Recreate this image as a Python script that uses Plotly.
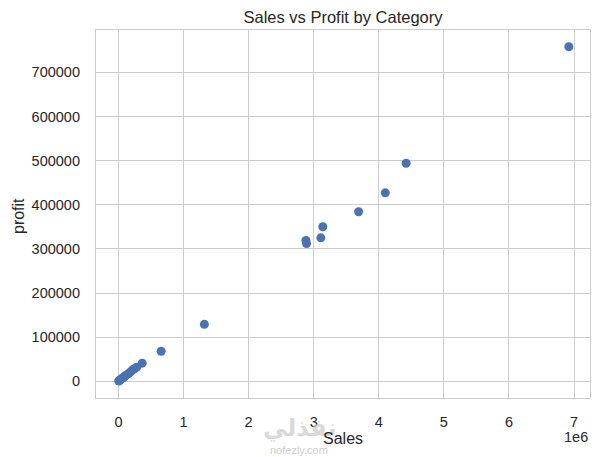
import plotly.graph_objects as go

# Data (Sales vs profit per category)
sales = [6.92e6, 4.42e6, 4.10e6, 3.69e6, 3.14e6, 3.11e6, 2.88e6, 2.89e6,
         1.32e6, 0.656e6, 0.365e6, 0.28e6, 0.25e6, 0.22e6, 0.19e6, 0.16e6,
         0.13e6, 0.10e6, 0.08e6, 0.06e6, 0.04e6, 0.025e6, 0.012e6, 0.005e6]
profit = [758000, 494000, 427000, 384000, 350000, 325000, 319000, 312000,
          129000, 68000, 41000, 32000, 29000, 26000, 22000, 18000,
          15000, 12000, 9000, 7000, 5000, 3000, 1500, 500]

x_tick_vals = [0, 1e6, 2e6, 3e6, 4e6, 5e6, 6e6, 7e6]
x_tick_text = ["0", "1", "2", "3", "4", "5", "6", "7"]
y_tick_vals = [0, 100000, 200000, 300000, 400000, 500000, 600000, 700000]

FONT = "Liberation Sans, Arial, sans-serif"
TXT = "#262626"
GRID = "#cccccc"

L, R, T, B = 96, 10, 30, 59
PW, PH = 600 - L - R, 457 - T - B


def px(xp):
    return (xp - L) / PW


def py(yp):
    return (457 - B - yp) / PH


fig = go.Figure(go.Scatter(
    x=sales, y=profit, mode="markers",
    marker=dict(color="#4c72b0", size=9, line=dict(width=0)),
    hoverinfo="x+y",
))

fig.update_layout(
    width=600, height=457,
    margin=dict(l=L, r=R, t=T, b=B),
    paper_bgcolor="white", plot_bgcolor="white",
    font=dict(family=FONT, color=TXT, size=14.5),
    showlegend=False,
    title=dict(text="Sales vs Profit by Category", x=px(343), xanchor="center",
               xref="paper", y=1 - 17 / 457, yanchor="middle",
               font=dict(size=16.5, color=TXT, family=FONT)),
    xaxis=dict(
        range=[-0.345e6, 7.245e6], automargin=False,
        tickvals=x_tick_vals, ticktext=x_tick_text,
        showgrid=True, gridcolor=GRID, gridwidth=1,
        zeroline=False, showline=True, linecolor=GRID, linewidth=1.2, mirror=True,
        ticks="outside", ticklen=10, tickcolor="rgba(0,0,0,0)",
        tickfont=dict(size=14.5, color=TXT),
    ),
    yaxis=dict(
        range=[-37900, 795900], automargin=False,
        tickvals=y_tick_vals, tickformat="d",
        showgrid=True, gridcolor=GRID, gridwidth=1,
        zeroline=False, showline=True, linecolor=GRID, linewidth=1.2, mirror=True,
        ticks="outside", ticklen=12, tickcolor="rgba(0,0,0,0)",
        tickfont=dict(size=14.5, color=TXT),
    ),
    annotations=[
        dict(text="نفذلي", xref="paper", yref="paper", x=px(299), y=py(428),
             xanchor="center", yanchor="middle", showarrow=False,
             font=dict(size=24, color="rgba(205,205,205,0.75)", family="DejaVu Sans, sans-serif", weight="bold")),
        dict(text="nofezly.com", xref="paper", yref="paper", x=px(299), y=py(450),
             xanchor="center", yanchor="middle", showarrow=False,
             font=dict(size=11, color="rgba(195,195,195,0.85)", family=FONT)),
        dict(text="Sales", xref="paper", yref="paper", x=px(343), y=py(438),
             xanchor="center", yanchor="middle", showarrow=False,
             font=dict(size=16, color=TXT, family=FONT)),
        dict(text="profit", xref="paper", yref="paper", x=px(18), y=py(216),
             xanchor="center", yanchor="middle", showarrow=False, textangle=-90,
             font=dict(size=16, color=TXT, family=FONT)),
        dict(text="1e6", xref="paper", yref="paper", x=1.0, y=py(437),
             xanchor="right", yanchor="middle", showarrow=False,
             font=dict(size=14.5, color=TXT, family=FONT)),
    ],
)

fig.write_html("out.html", config={"displayModeBar": False},
               post_script="document.body.style.margin='0';document.body.style.overflow='hidden';")
